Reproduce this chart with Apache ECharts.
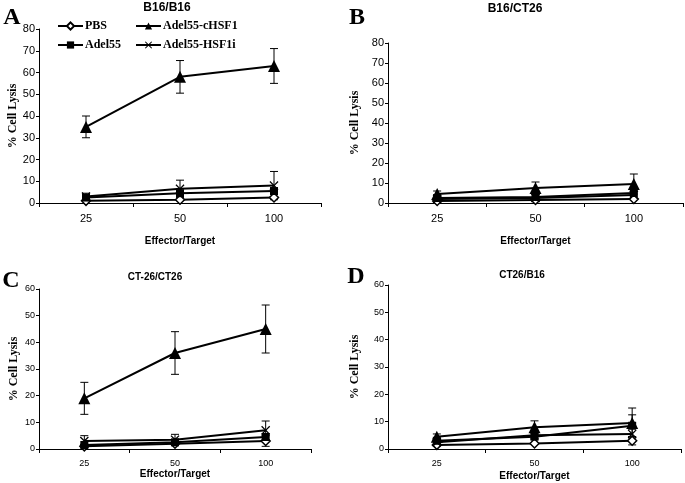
<!DOCTYPE html>
<html>
<head>
<meta charset="utf-8">
<script src="https://cdn.jsdelivr.net/npm/echarts@6/dist/echarts.min.js"></script>
<style>
    html, body { margin: 0; padding: 0; background: #fff; }
    #chart { width: 685px; height: 483px; }
</style>
</head>
<body>
<div id="chart"></div>
<script>
const categories = ['25', '50', '100'];
const seriesNames = ['PBS', 'Adel55', 'Adel55-cHSF1', 'Adel55-HSF1i'];
const panelTitles = ['B16/B16', 'B16/CT26', 'CT-26/CT26', 'CT26/B16'];
const panelLetters = ['A', 'B', 'C', 'D'];
const yMaxes = [80, 80, 60, 60];

// A  B16/B16
const aPBS = [1, 1.5, 2.5];
const aAdel55 = [2.5, 4.5, 5.5];
const aCHSF1 = [35, 58, 63];
const aHSF1i = [3, 6.5, 8];
const aPBSErr = [0, 0, 0];
const aAdel55Err = [1, 1, 1];
const aCHSF1Err = [5, 7.5, 8];
const aHSF1iErr = [1.5, 4, 6.5];

// B  B16/CT26
const bPBS = [1, 1.5, 2];
const bAdel55 = [2.5, 3, 5];
const bCHSF1 = [4.5, 7.5, 9.5];
const bHSF1i = [2, 2.5, 4];
const bPBSErr = [0, 0, 0];
const bAdel55Err = [0, 0, 0];
const bCHSF1Err = [1.5, 3, 5];
const bHSF1iErr = [0, 0, 0];

// C  CT-26/CT26
const cPBS = [1, 2, 3];
const cAdel55 = [1.5, 2.5, 4.5];
const cCHSF1 = [19, 36, 45];
const cHSF1i = [3, 3.5, 7];
const cPBSErr = [0, 0, 2];
const cAdel55Err = [0, 0, 0];
const cCHSF1Err = [6, 8, 9];
const cHSF1iErr = [2, 2, 3.5];

// D  CT26/B16
const dPBS = [1.5, 2, 3];
const dAdel55 = [3, 4.5, 8.5];
const dCHSF1 = [4.5, 8, 9.5];
const dHSF1i = [2.5, 5, 5.5];
const dPBSErr = [0, 0, 1.5];
const dAdel55Err = [0, 0, 4];
const dCHSF1Err = [1, 2.3, 5.5];
const dHSF1iErr = [0, 0, 0];

const panelValues = [
    [aPBS, aAdel55, aCHSF1, aHSF1i],
    [bPBS, bAdel55, bCHSF1, bHSF1i],
    [cPBS, cAdel55, cCHSF1, cHSF1i],
    [dPBS, dAdel55, dCHSF1, dHSF1i]
];
const panelErrors = [
    [aPBSErr, aAdel55Err, aCHSF1Err, aHSF1iErr],
    [bPBSErr, bAdel55Err, bCHSF1Err, bHSF1iErr],
    [cPBSErr, cAdel55Err, cCHSF1Err, cHSF1iErr],
    [dPBSErr, dAdel55Err, dCHSF1Err, dHSF1iErr]
];

const grids = [
    { left: 39, right: 364, top: 29, bottom: 280 },
    { left: 388, right: 2, top: 43, bottom: 280 },
    { left: 39, right: 374, top: 289, bottom: 34 },
    { left: 388, right: 4, top: 285, bottom: 34 }
];
const yNameGap = [19, 27, 19, 27];
const xNameGap = [33, 33, 18, 22];
const tickFont = [11, 11, 9, 9];
const titleFont = [12, 12, 10, 10];
const titlePos = [[167, 8], [515, 9], [155, 277], [522, 275]];
const letterPos = [[12, 18], [357, 18], [11, 281], [356, 277]];

const crossPath = 'path://M0,1L1,0L5,4L9,0L10,1L6,5L10,9L9,10L5,6L1,10L0,9L4,5Z';
const markStyles = [
    { symbol: 'diamond', symbolSize: 9, itemStyle: { color: '#fff', borderColor: '#000', borderWidth: 1.5 } },
    { symbol: 'rect', symbolSize: 8, itemStyle: { color: '#000' } },
    { symbol: 'triangle', symbolSize: 12, itemStyle: { color: '#000' } },
    { symbol: crossPath, symbolSize: 9, itemStyle: { color: '#000' } }
];

const sans = 'Liberation Sans, Arial, sans-serif';
const serif = 'Liberation Serif, Times New Roman, serif';

// 误差线：竖线加上下两个短横
function errBar(params, api) {
    let x = api.coord([api.value(0), 0])[0];
    let lo = api.coord([api.value(0), api.value(1)])[1];
    let hi = api.coord([api.value(0), api.value(2)])[1];
    let w = 4;
    let style = { stroke: '#000', lineWidth: 1 };
    return {
        type: 'group',
        children: [
            { type: 'line', shape: { x1: x, y1: lo, x2: x, y2: hi }, style: style },
            { type: 'line', shape: { x1: x - w, y1: lo, x2: x + w, y2: lo }, style: style },
            { type: 'line', shape: { x1: x - w, y1: hi, x2: x + w, y2: hi }, style: style }
        ]
    };
}

function legendOpt(l) {
    return Object.assign({
        orient: 'vertical',
        top: 20,
        padding: 0,
        itemWidth: 25,
        itemHeight: 9,
        itemGap: 7,
        textStyle: { fontFamily: serif, fontWeight: 'bold', fontSize: 12, color: '#000', padding: [0, 0, 0, -3] }
    }, l);
}

let option = {
    animation: false,
    backgroundColor: '#fff',
    grid: grids,
    xAxis: grids.map((g, i) => ({
        type: 'category',
        gridIndex: i,
        data: categories,
        boundaryGap: true,
        name: 'Effector/Target',
        nameLocation: 'middle',
        nameGap: xNameGap[i],
        nameTextStyle: { fontFamily: sans, fontWeight: 'bold', fontSize: 10, color: '#000' },
        axisLine: { lineStyle: { color: '#000', width: 1 } },
        axisTick: { show: true, length: 4, lineStyle: { color: '#000' } },
        axisLabel: { fontFamily: sans, fontSize: tickFont[i], color: '#000', margin: 10 },
        splitLine: { show: false }
    })),
    yAxis: grids.map((g, i) => ({
        type: 'value',
        gridIndex: i,
        min: 0,
        max: yMaxes[i],
        interval: 10,
        name: '% Cell Lysis',
        nameLocation: 'middle',
        nameGap: yNameGap[i],
        nameTextStyle: { fontFamily: serif, fontWeight: 'bold', fontSize: 12, color: '#000' },
        axisLine: { show: true, lineStyle: { color: '#000', width: 1 } },
        axisTick: { show: true, length: 3, lineStyle: { color: '#000' } },
        axisLabel: { fontFamily: sans, fontSize: tickFont[i], color: '#000', margin: 4 },
        splitLine: { show: false }
    })),
    legend: [
        legendOpt({ data: ['PBS', 'Adel55'], left: 57 }),
        legendOpt({ data: ['Adel55-cHSF1', 'Adel55-HSF1i'], left: 135 })
    ],
    graphic: panelTitles.map((t, i) => ({
        type: 'text',
        x: titlePos[i][0],
        y: titlePos[i][1],
        style: {
            text: t, fill: '#000', font: 'bold ' + titleFont[i] + 'px ' + sans,
            textAlign: 'center', textVerticalAlign: 'middle'
        }
    })).concat(panelLetters.map((t, i) => ({
        type: 'text',
        x: letterPos[i][0],
        y: letterPos[i][1],
        style: {
            text: t, fill: '#000', font: 'bold 24px ' + serif,
            textAlign: 'center', textVerticalAlign: 'middle'
        }
    }))),
    series: []
};

panelValues.forEach((vals, p) => {
    vals.forEach((data, s) => {
        let errs = panelErrors[p][s];
        option.series.push({
            type: 'custom',
            xAxisIndex: p,
            yAxisIndex: p,
            silent: true,
            z: 1,
            renderItem: errBar,
            encode: { x: 0, y: [1, 2] },
            data: data.map((v, k) => [k, v - errs[k], v + errs[k]]).filter((d, k) => errs[k] > 0)
        });
    });
    vals.forEach((data, s) => {
        option.series.push(Object.assign({
            type: 'line',
            name: seriesNames[s],
            xAxisIndex: p,
            yAxisIndex: p,
            z: 3,
            showSymbol: true,
            lineStyle: { color: '#000', width: 2 },
            data: data
        }, markStyles[s]));
    });
});

let chart = echarts.init(document.getElementById('chart'), null, { renderer: 'canvas' });
chart.setOption(option);
</script>
</body>
</html>
